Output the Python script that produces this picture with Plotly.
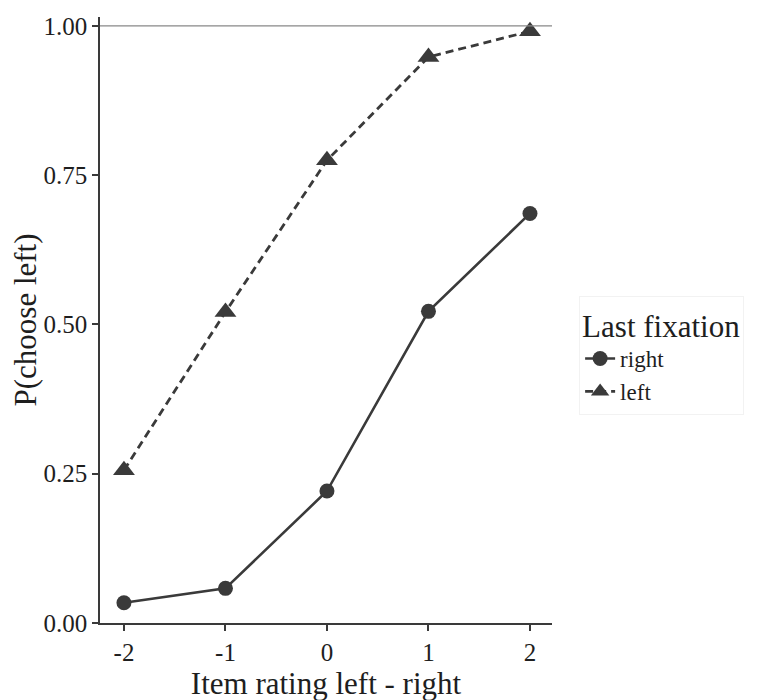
import plotly.graph_objects as go

x_vals = [-2, -1, 0, 1, 2]
right_vals = [0.034, 0.058, 0.221, 0.522, 0.686]
left_vals = [0.256, 0.521, 0.775, 0.948, 0.991]
x_ticks = [-2, -1, 0, 1, 2]
x_tick_labels = ["-2", "-1", "0", "1", "2"]
y_ticks = [0.0, 0.25, 0.5, 0.75, 1.0]
y_tick_labels = ["0.00", "0.25", "0.50", "0.75", "1.00"]

col = "#3a3a3a"
txt = "#1e1e1e"
font = "Liberation Serif"

fig = go.Figure()
fig.add_trace(go.Scatter(x=x_vals, y=right_vals, name="right", mode="lines+markers",
                         line=dict(color=col, width=2.6, dash="solid"),
                         marker=dict(symbol="circle", size=15, color=col)))
fig.add_trace(go.Scatter(x=x_vals, y=left_vals, name="left", mode="lines+markers",
                         line=dict(color=col, width=2.8, dash="8px,5px"),
                         marker=dict(symbol="triangle-up", size=19, color=col)))

fig.add_hline(y=1.0, line=dict(color="#888888", width=1.2))

fig.update_layout(
    width=766, height=700,
    margin=dict(l=92, r=222, t=9, b=85),
    paper_bgcolor="white", plot_bgcolor="white",
    font=dict(family=font, color=txt, size=25),
    legend=dict(title=dict(text="Last fixation", font=dict(size=31)),
                x=1.06, xanchor="left", y=0.54, yanchor="top",
                font=dict(size=23), bgcolor="white",
                bordercolor="#f2f2f2", borderwidth=1, tracegroupgap=0),
    xaxis=dict(range=[-2.236, 2.217], tickvals=x_ticks, ticktext=x_tick_labels,
               showgrid=False, zeroline=False, automargin=False,
               showline=True, linecolor=col, linewidth=1.6, ticks="outside",
               ticklen=6, tickcolor=col, tickwidth=1.5,
               tickfont=dict(size=25, color=txt),
               title=dict(text="Item rating left - right", font=dict(size=31), standoff=4)),
    yaxis=dict(range=[0, 1.015], tickvals=y_ticks, ticktext=y_tick_labels,
               showgrid=False, zeroline=False, automargin=False,
               showline=True, linecolor=col, linewidth=1.6, ticks="outside",
               ticklen=6, tickcolor=col, tickwidth=1.5,
               tickfont=dict(size=25, color=txt),
               title=dict(text="P(choose left)", font=dict(size=31), standoff=8)),
)

fig.write_html("out.html")
